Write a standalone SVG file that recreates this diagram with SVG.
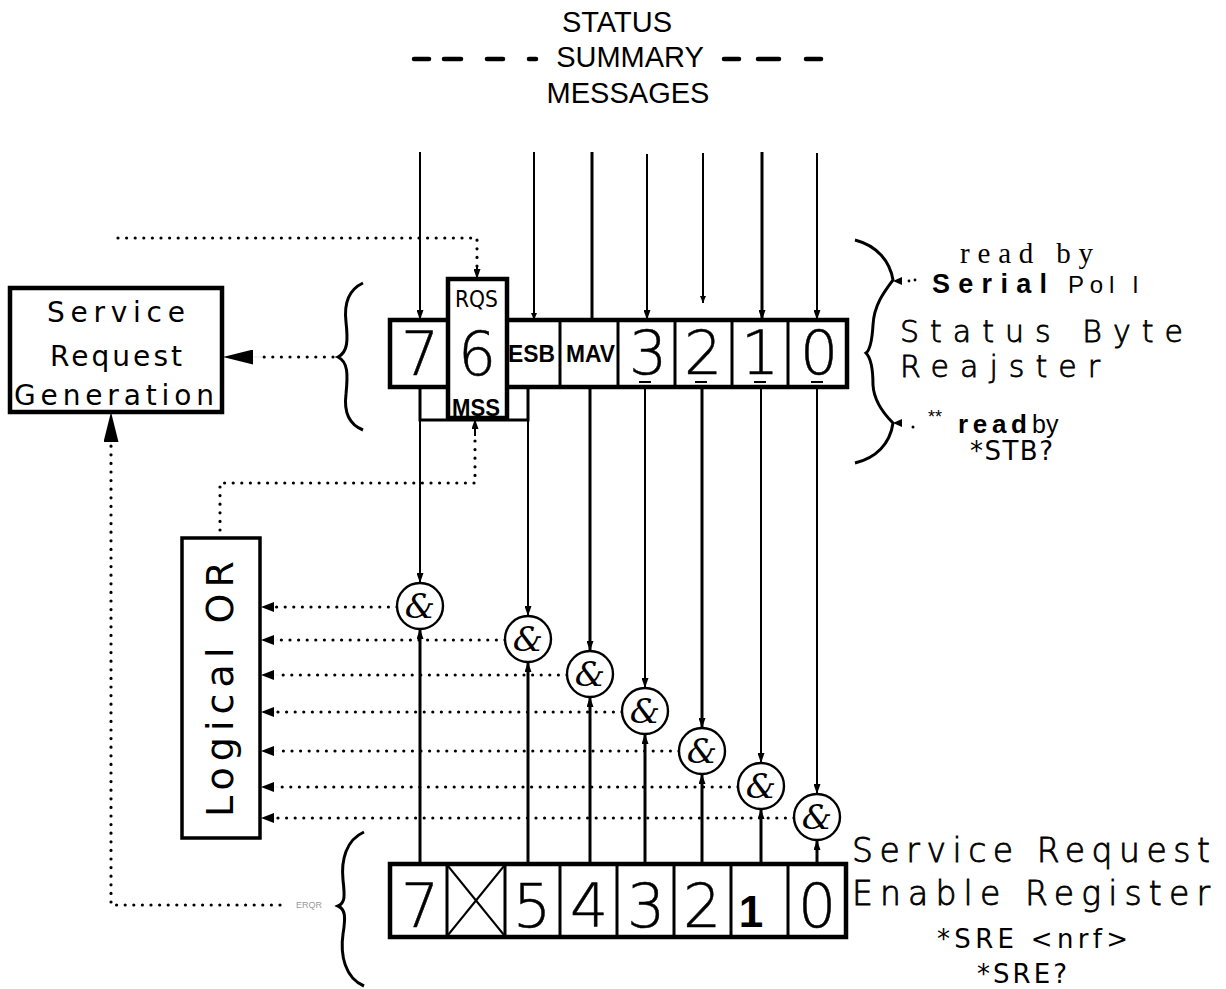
<svg xmlns="http://www.w3.org/2000/svg" width="1226" height="989" viewBox="0 0 1226 989">
<defs>
<style>
.ln{stroke:#000;stroke-width:2;fill:none}
.lnb{stroke:#000;stroke-width:3;fill:none}
.dot{stroke:#000;stroke-width:3.2;stroke-linecap:round;stroke-dasharray:0 8.6;fill:none}
.box{stroke:#000;stroke-width:4.5;fill:#fff}
.cell{stroke:#000;stroke-width:3;fill:none}
.gate{stroke:#000;stroke-width:2.4;fill:#fff}
.amp{font-family:"DejaVu Serif","Liberation Serif",serif;font-style:italic;font-size:34px;text-anchor:middle}
.hdr{font-family:"Liberation Sans",Arial,sans-serif;font-size:29px;text-anchor:middle}
.plt{font-family:"DejaVu Sans","Liberation Sans",sans-serif}
.thin{font-family:"DejaVu Sans","Liberation Sans",sans-serif;font-weight:200;stroke:#000;stroke-width:0.8}
.dig{font-family:"DejaVu Sans","Liberation Sans",sans-serif;font-weight:200;font-size:60px;text-anchor:middle;stroke:#000;stroke-width:0.5}
.bld{font-family:"Liberation Sans",Arial,sans-serif;font-weight:bold}
.brace{stroke:#000;stroke-width:3;fill:none}
</style>
<marker id="arr" viewBox="0 0 10 10" refX="10" refY="5" markerWidth="10" markerHeight="7" markerUnits="userSpaceOnUse" orient="auto" preserveAspectRatio="none"><path d="M0,0 L10,5 L0,10 z"/></marker>
<marker id="arrS" viewBox="0 0 10 10" refX="10" refY="5" markerWidth="7" markerHeight="6" markerUnits="userSpaceOnUse" orient="auto" preserveAspectRatio="none"><path d="M0,0 L10,5 L0,10 z"/></marker>
<marker id="arrBig" viewBox="0 0 10 10" refX="10" refY="5" markerWidth="30" markerHeight="15" markerUnits="userSpaceOnUse" orient="auto" preserveAspectRatio="none"><path d="M0,0 L10,5 L0,10 z"/></marker>
<marker id="arrOR" viewBox="0 0 10 10" refX="10" refY="5" markerWidth="13" markerHeight="10" markerUnits="userSpaceOnUse" orient="auto" preserveAspectRatio="none"><path d="M0,0 L10,5 L0,10 z"/></marker>
</defs>
<rect width="1226" height="989" fill="#fff"/>

<g id="header">
<text class="hdr" x="617" y="32">STATUS</text>
<text class="hdr" x="630" y="67">SUMMARY</text>
<text class="hdr" x="628" y="103">MESSAGES</text>
<g stroke="#000" stroke-width="4.5" stroke-linecap="round">
<line x1="414" y1="59" x2="429" y2="59"/><line x1="444" y1="59" x2="461" y2="59"/><line x1="487" y1="59" x2="503" y2="59"/><line x1="529" y1="59" x2="536" y2="59"/>
<line x1="724" y1="59" x2="739" y2="59"/><line x1="758" y1="59" x2="779" y2="59"/><line x1="806" y1="59" x2="821" y2="59"/>
</g>
</g>

<g id="connectors">
<line class="ln" x1="420" y1="152" x2="420" y2="320" marker-end="url(#arr)"/>
<line class="ln" x1="534" y1="152" x2="534" y2="320" marker-end="url(#arrS)"/>
<line class="lnb" x1="592" y1="152" x2="592" y2="320"/>
<line class="ln" x1="647" y1="154" x2="647" y2="320" marker-end="url(#arr)"/>
<line class="ln" x1="703" y1="153" x2="703" y2="303" marker-end="url(#arrS)"/>
<line class="lnb" x1="762" y1="152" x2="762" y2="320" marker-end="url(#arr)"/>
<line class="ln" x1="817" y1="153" x2="817" y2="320" marker-end="url(#arr)"/>
<polyline class="dot" points="118,238 477,238 477,270"/>
<line class="ln" x1="477" y1="266" x2="477" y2="279" marker-end="url(#arr)"/>
<polyline class="lnb" points="420,387 420,420 528,420 528,387"/>
<line class="ln" x1="420" y1="420" x2="420" y2="583" marker-end="url(#arr)"/>
<line class="ln" x1="528" y1="420" x2="528" y2="616" marker-end="url(#arr)"/>
<line class="lnb" x1="590" y1="387" x2="590" y2="651" marker-end="url(#arr)"/>
<line class="ln" x1="645" y1="387" x2="645" y2="688" marker-end="url(#arr)"/>
<line class="lnb" x1="702" y1="387" x2="702" y2="728" marker-end="url(#arr)"/>
<line class="ln" x1="761" y1="387" x2="761" y2="763" marker-end="url(#arr)"/>
<line class="ln" x1="817" y1="387" x2="817" y2="794" marker-end="url(#arr)"/>
<line class="lnb" x1="420" y1="864" x2="420" y2="629" marker-end="url(#arr)"/>
<line class="lnb" x1="528" y1="864" x2="528" y2="662" marker-end="url(#arr)"/>
<line class="lnb" x1="590" y1="864" x2="590" y2="697" marker-end="url(#arr)"/>
<line class="lnb" x1="645" y1="864" x2="645" y2="734" marker-end="url(#arr)"/>
<line class="lnb" x1="702" y1="864" x2="702" y2="774" marker-end="url(#arr)"/>
<line class="lnb" x1="761" y1="864" x2="761" y2="809" marker-end="url(#arr)"/>
<line class="lnb" x1="817" y1="864" x2="817" y2="840" marker-end="url(#arr)"/>
<line class="lnb" x1="746" y1="864" x2="787" y2="864"/>
<line class="dot" x1="397" y1="607" x2="276" y2="607"/>
<line class="dot" x1="505" y1="640" x2="276" y2="640"/>
<line class="dot" x1="567" y1="675" x2="276" y2="675"/>
<line class="dot" x1="622" y1="712" x2="276" y2="712"/>
<line class="dot" x1="679" y1="751" x2="276" y2="751"/>
<line class="dot" x1="738" y1="787" x2="276" y2="787"/>
<line class="dot" x1="794" y1="818" x2="276" y2="818"/>
<g fill="none" stroke="#000" stroke-width="0.1">
<line x1="278" y1="607" x2="261" y2="607" marker-end="url(#arrOR)"/>
<line x1="278" y1="640" x2="261" y2="640" marker-end="url(#arrOR)"/>
<line x1="278" y1="675" x2="261" y2="675" marker-end="url(#arrOR)"/>
<line x1="278" y1="712" x2="261" y2="712" marker-end="url(#arrOR)"/>
<line x1="278" y1="751" x2="261" y2="751" marker-end="url(#arrOR)"/>
<line x1="278" y1="787" x2="261" y2="787" marker-end="url(#arrOR)"/>
<line x1="278" y1="818" x2="261" y2="818" marker-end="url(#arrOR)"/>
</g>
<polyline class="dot" points="220,530 220,483 475,483 475,440"/>
<line class="ln" x1="475" y1="436" x2="475" y2="419" marker-end="url(#arr)"/>
<line class="dot" x1="333" y1="357" x2="262" y2="357"/>
<line x1="262" y1="357" x2="223" y2="357" stroke="#000" stroke-width="0.1" marker-end="url(#arrBig)"/>
<polyline class="dot" points="280,905 111,905 111,445"/>
<line x1="111" y1="444" x2="111" y2="412" stroke="#000" stroke-width="0.1" marker-end="url(#arrBig)"/>
</g>

<g id="srg">
<rect class="box" x="10" y="288" width="212" height="124"/>
<text class="plt" x="47" y="322" font-size="28" textLength="138" lengthAdjust="spacing">Service</text>
<text class="plt" x="50" y="366" font-size="28" textLength="132" lengthAdjust="spacing">Request</text>
<text class="plt" x="14" y="405" font-size="28" textLength="200" lengthAdjust="spacing">Generation</text>
</g>

<g id="status-byte">
<rect x="390" y="320" width="457" height="67" fill="#fff" stroke="#000" stroke-width="4.5"/>
<g class="cell">
<line x1="507" y1="320" x2="507" y2="387"/><line x1="560" y1="320" x2="560" y2="387"/><line x1="618" y1="320" x2="618" y2="387"/><line x1="675" y1="320" x2="675" y2="387"/><line x1="732" y1="320" x2="732" y2="387"/><line x1="788" y1="320" x2="788" y2="387"/>
</g>
<rect x="448" y="279" width="59" height="139" fill="#fff" stroke="#000" stroke-width="4.5"/>
<text class="dig" x="420" y="375">7</text>
<text class="dig" x="477" y="375">6</text>
<text class="dig" x="648" y="374">3</text>
<text class="dig" x="703" y="374">2</text>
<text class="dig" x="760" y="374">1</text>
<text class="dig" x="819" y="374">0</text>
<text class="plt" x="455" y="307" font-size="23" textLength="43" lengthAdjust="spacingAndGlyphs">RQS</text>
<text class="bld" x="452" y="416" font-size="23" textLength="48" lengthAdjust="spacingAndGlyphs">MSS</text>
<text class="bld" x="508" y="362" font-size="24" textLength="47" lengthAdjust="spacingAndGlyphs">ESB</text>
<text class="bld" x="566" y="362" font-size="24" textLength="49" lengthAdjust="spacingAndGlyphs">MAV</text>
<g stroke="#000" stroke-width="2">
<line x1="639" y1="382" x2="651" y2="382"/><line x1="695" y1="382" x2="707" y2="382"/><line x1="754" y1="382" x2="766" y2="382"/><line x1="811" y1="382" x2="823" y2="382"/>
</g>
<path class="brace" d="M363,283 C348,290 344,305 346,322 C348,340 348,352 338,357 C348,362 348,374 346,394 C344,410 348,424 363,430"/>
</g>

<g id="status-byte-labels">
<path class="brace" d="M855,240 C878,246 890,262 893,280 C884,292 874,305 873,325 C872,342 870,350 866,353 C870,357 873,366 873,385 C874,402 884,414 893,423 C890,444 876,458 855,463"/>
<polygon points="893,281 902,277 902,285"/>
<circle cx="909" cy="281" r="1.4"/><circle cx="915" cy="280" r="1.4"/>
<polygon points="893,423 902,419 902,427"/>
<circle cx="913" cy="427" r="1.5"/>
<text x="960" y="263" font-family="'Liberation Serif','Times New Roman',serif" font-size="29" textLength="133" lengthAdjust="spacing">read by</text>
<text class="bld" x="932" y="293" font-size="27" textLength="115" lengthAdjust="spacing">Serial</text>
<text x="1068" y="293" font-family="'Liberation Sans',Arial,sans-serif" font-size="24" textLength="70" lengthAdjust="spacing">Pol l</text>
<text class="thin" x="900" y="342" font-size="30" textLength="283" lengthAdjust="spacing">Status Byte</text>
<text class="thin" x="900" y="377" font-size="30" textLength="200" lengthAdjust="spacing">Reajster</text>
<text x="928" y="423" font-family="'Liberation Sans',Arial,sans-serif" font-size="18">**</text>
<text class="bld" x="958" y="433" font-size="26" textLength="69" lengthAdjust="spacing">read</text>
<text x="1032" y="433" font-family="'Liberation Sans',Arial,sans-serif" font-size="25">by</text>
<text class="plt" x="970" y="460" font-size="26" textLength="83" lengthAdjust="spacing">*STB?</text>
</g>

<g id="logical-or">
<rect x="182" y="538" width="78" height="300" fill="#fff" stroke="#000" stroke-width="3.5"/>
<text class="plt" transform="translate(233,689) rotate(-90)" x="0" y="0" font-size="38" text-anchor="middle" textLength="256" lengthAdjust="spacing">Logical OR</text>
</g>

<g id="gates">
<g id="g7"><circle class="gate" cx="420" cy="606" r="23"/><text class="amp" x="420" y="618">&amp;</text></g>
<g id="g5"><circle class="gate" cx="528" cy="639" r="23"/><text class="amp" x="528" y="651">&amp;</text></g>
<g id="g4"><circle class="gate" cx="590" cy="674" r="23"/><text class="amp" x="590" y="686">&amp;</text></g>
<g id="g3"><circle class="gate" cx="645" cy="711" r="23"/><text class="amp" x="645" y="723">&amp;</text></g>
<g id="g2"><circle class="gate" cx="702" cy="751" r="23"/><text class="amp" x="702" y="763">&amp;</text></g>
<g id="g1"><circle class="gate" cx="761" cy="786" r="23"/><text class="amp" x="761" y="798">&amp;</text></g>
<g id="g0"><circle class="gate" cx="817" cy="817" r="23"/><text class="amp" x="817" y="829">&amp;</text></g>
</g>

<g id="sre">
<rect x="390" y="864" width="456" height="73" fill="#fff" stroke="#000" stroke-width="4.5"/>
<g class="cell">
<line x1="447" y1="864" x2="447" y2="937"/><line x1="505" y1="864" x2="505" y2="937"/><line x1="560" y1="864" x2="560" y2="937"/><line x1="617" y1="864" x2="617" y2="937"/><line x1="674" y1="864" x2="674" y2="937"/><line x1="731" y1="864" x2="731" y2="937"/><line x1="788" y1="864" x2="788" y2="937"/>
</g>
<line class="ln" x1="448" y1="866" x2="504" y2="935"/>
<line class="ln" x1="504" y1="866" x2="448" y2="935"/>
<text class="dig" x="420" y="927">7</text>
<text class="dig" x="532" y="927">5</text>
<text class="dig" x="589" y="927">4</text>
<text class="dig" x="646" y="927">3</text>
<text class="dig" x="702" y="927">2</text>
<text class="bld" x="751" y="927" font-size="44" text-anchor="middle">1</text>
<text class="dig" x="817" y="927">0</text>
<path class="brace" d="M364,832 C346,840 341,860 343,880 C345,897 345,903 338,906 C345,909 346,916 343,934 C340,955 345,978 364,986"/>
<text x="296" y="908" font-family="'Liberation Sans',Arial,sans-serif" font-size="9" fill="#999">ERQR</text>
</g>

<g id="sre-labels">
<text class="thin" x="852" y="862" font-size="33" textLength="358" lengthAdjust="spacing">Service Request</text>
<text class="thin" x="852" y="905" font-size="33" textLength="358" lengthAdjust="spacing">Enable Register</text>
<text class="plt" x="937" y="948" font-size="26" textLength="191" lengthAdjust="spacing">*SRE &lt;nrf&gt;</text>
<text class="plt" x="977" y="983" font-size="26" textLength="90" lengthAdjust="spacing">*SRE?</text>
</g>
</svg>
